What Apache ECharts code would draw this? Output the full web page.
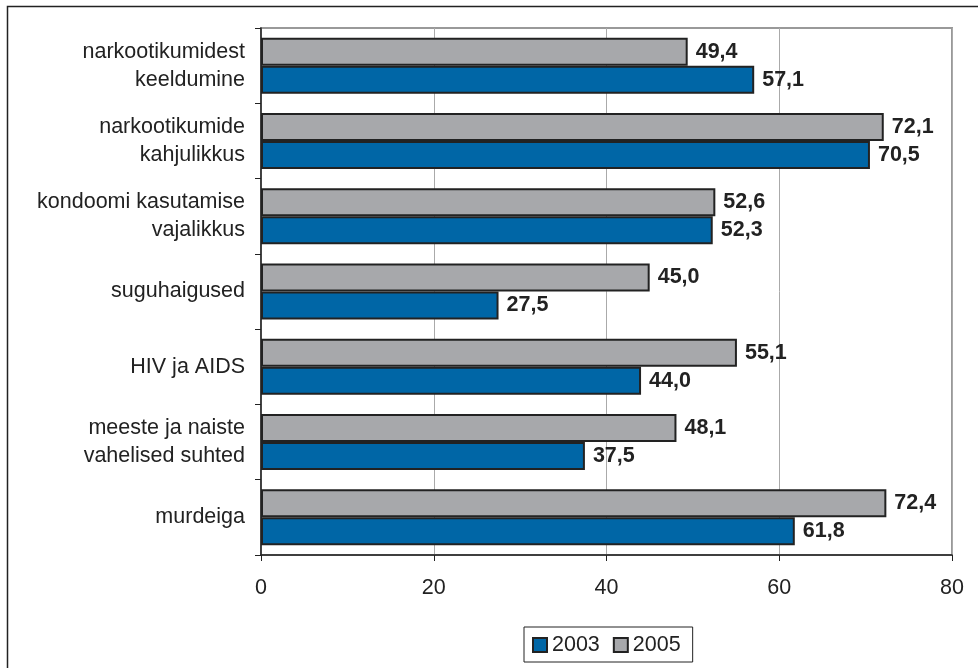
<!DOCTYPE html>
<html><head><meta charset="utf-8">
<script src="https://cdn.jsdelivr.net/npm/echarts@6/dist/echarts.min.js"></script>
<style>html,body{margin:0;padding:0;background:#fff}#c{width:978px;height:668px}</style>
</head><body><div id="c"></div>
<script>
const categories = ['narkootikumidest\nkeeldumine','narkootikumide\nkahjulikkus','kondoomi kasutamise\nvajalikkus','suguhaigused','HIV ja AIDS','meeste ja naiste\nvahelised suhted','murdeiga'];
const values2003 = [57.1,70.5,52.3,27.5,44.0,37.5,61.8];
const values2005 = [49.4,72.1,52.6,45.0,55.1,48.1,72.4];
const xTicks = [0,20,40,60,80];

const FONT = '"Liberation Sans", Arial, sans-serif';
const FS = 21.5;
const fmt = p => p.value.toFixed(1).replace('.', ',');
const chart = echarts.init(document.getElementById('c'), null, {renderer:'canvas'});
chart.setOption({
  animation:false,
  backgroundColor:'#fff',
  textStyle:{fontFamily:FONT},
  graphic:[{type:'rect',shape:{x:7.5,y:6.5,width:1000,height:1000},style:{fill:'none',stroke:'#222',lineWidth:1.5},silent:true},
           {type:'rect',shape:{x:261,y:28,width:691,height:527},style:{fill:'none',stroke:'#999',lineWidth:2},silent:true,z:-1}],
  grid:{left:261,right:26,top:28,bottom:113,containLabel:false},
  legend:{data:['2003','2005'],left:524,top:627,padding:[7,12,6,8],
    backgroundColor:'#fff',borderColor:'#222',borderWidth:1,itemWidth:14,itemHeight:14,itemGap:13,
    textStyle:{fontSize:FS,color:'#222',fontFamily:FONT},icon:'rect'},
  xAxis:{type:'value',min:0,max:80,interval:20,
    axisLine:{show:true,lineStyle:{color:'#222',width:1.5}},
    axisTick:{show:true,length:6,lineStyle:{color:'#222'}},
    splitLine:{show:true,lineStyle:{color:'#aaa',width:1}},
    axisLabel:{fontSize:FS,color:'#222',margin:22,fontFamily:FONT,formatter:v=>xTicks.includes(v)?String(v):''}},
  yAxis:{type:'category',data:categories,inverse:true,
    axisLine:{show:true,lineStyle:{color:'#222',width:1.5}},
    axisTick:{show:true,length:6,lineStyle:{color:'#222'}},
    axisLabel:{fontSize:FS,color:'#222',margin:16,lineHeight:28,fontFamily:FONT,align:'right'}},
  series:[
    {name:'2005',type:'bar',data:values2005,barWidth:28,barGap:'0%',barCategoryGap:'24%',
     itemStyle:{color:'#a7a8ab',borderColor:'#222',borderWidth:2},
     label:{show:true,position:'right',distance:8,fontSize:FS,fontWeight:'bold',color:'#222',fontFamily:FONT,formatter:fmt}},
    {name:'2003',type:'bar',data:values2003,barWidth:28,barGap:'0%',barCategoryGap:'24%',
     itemStyle:{color:'#0066a6',borderColor:'#222',borderWidth:2},
     label:{show:true,position:'right',distance:8,fontSize:FS,fontWeight:'bold',color:'#222',fontFamily:FONT,formatter:fmt}}
  ]
});
</script></body></html>
